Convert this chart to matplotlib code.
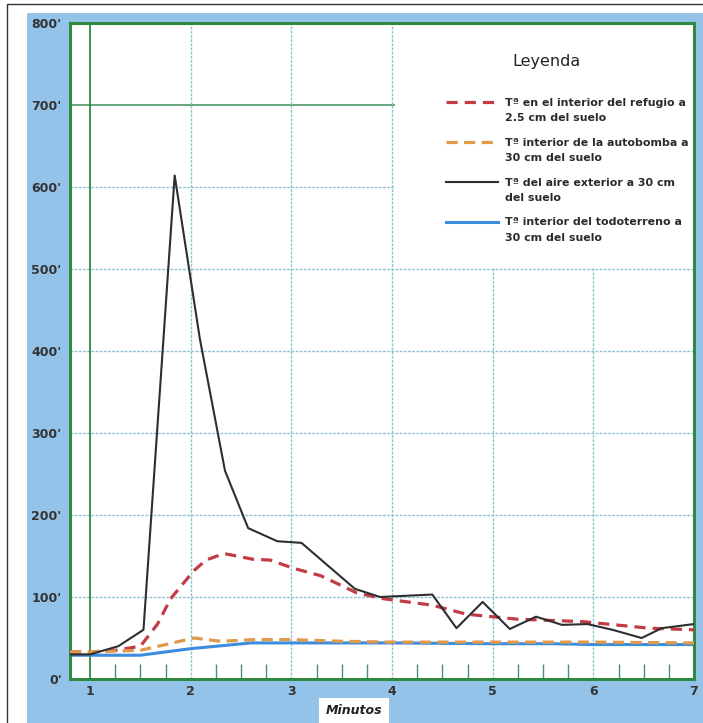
import matplotlib
matplotlib.use("Agg")
import matplotlib.pyplot as plt
from matplotlib.lines import Line2D
from matplotlib.patches import Rectangle
from matplotlib.legend_handler import HandlerLine2D

# datos (minutos, temperatura)
t_refugio = [0.8, 1.0, 1.25, 1.5, 1.67, 1.8, 2.03, 2.15, 2.33, 2.62, 2.79, 3.02, 3.29, 3.65, 3.91, 4.4, 4.74, 5.24, 5.89, 6.55, 7.0]
v_refugio = [33, 33, 35, 40, 67, 98, 132, 145, 153, 146, 145, 135, 126, 105, 98, 90, 79, 73, 70, 62, 60]

t_autobomba = [0.8, 1.0, 1.5, 1.75, 2.03, 2.3, 2.62, 3.0, 3.5, 4.0, 5.0, 6.0, 7.0]
v_autobomba = [33, 33, 35, 42, 50, 46, 48, 48, 46, 45, 45, 45, 44]

t_aire = [0.8, 1.0, 1.28, 1.53, 1.84, 2.09, 2.34, 2.57, 2.86, 3.1, 3.63, 3.88, 4.4, 4.64, 4.9, 5.17, 5.43, 5.69, 5.94, 6.19, 6.48, 6.68, 7.0]
v_aire = [30, 30, 40, 60, 614, 415, 254, 184, 168, 166, 110, 100, 103, 62, 94, 61, 76, 66, 67, 60, 50, 62, 67]

t_todoterreno = [0.8, 1.0, 1.5, 2.0, 2.6, 3.0, 4.0, 5.0, 5.6, 6.0, 7.0]
v_todoterreno = [29, 29, 29, 37, 44, 44, 44, 43, 43, 42, 42]

etiquetas = [
    "Tª en el interior del refugio a\n2.5 cm del suelo",
    "Tª interior de la autobomba a\n30 cm del suelo",
    "Tª del aire exterior a 30 cm\ndel suelo",
    "Tª interior del todoterreno a\n30 cm del suelo",
]
y_ticks = [0, 100, 200, 300, 400, 500, 600, 700, 800]
x_ticks = [1, 2, 3, 4, 5, 6, 7]

verde = '#2f8a3f'
rejilla = '#8cc3cf'


class HandlerArriba(HandlerLine2D):
    # la linea de muestra va a la altura de la primera linea del texto
    def create_artists(self, legend, orig_handle, xdescent, ydescent, width, height, fontsize, trans):
        arts = super().create_artists(legend, orig_handle, xdescent, ydescent, width, height, fontsize, trans)
        for a in arts:
            a.set_ydata([y + 0.8 * fontsize for y in a.get_ydata()])
        return arts


fig = plt.figure(figsize=(7.03, 7.23), dpi=100)
fig.patch.set_facecolor('white')

# marco exterior y panel azul
fig.patches.append(Rectangle((7/703, -0.01), 1, (723-4)/723 + 0.01, transform=fig.transFigure,
                             fc='none', ec='#333333', lw=1, zorder=-10))
fig.patches.append(Rectangle((27/703, 0), 1, (723-13)/723, transform=fig.transFigure,
                             fc='#94c3ea', ec='none', zorder=-9))

ax = fig.add_axes([70/703, 44/723, 624/703, 656/723])
ax.set_zorder(1)
ax.set_facecolor('white')
ax.set_xlim(0.8, 7)
ax.set_ylim(0, 800)

# rejilla
for y in y_ticks[1:-1]:
    if y == 700:
        ax.axhline(y, color='#3c8f5a', lw=1.1, zorder=0.5)
    else:
        ax.axhline(y, color=rejilla, lw=1, ls=(0, (2, 1)), zorder=0.5)
for x in x_ticks[1:-1]:
    ax.axvline(x, color=rejilla, lw=1, ls=(0, (2, 1)), zorder=0.5)
ax.axvline(1, color=verde, lw=1.3, zorder=0.6)

# caja blanca de la leyenda
ax.add_patch(Rectangle((4.03, 503), 2.97, 297, fc='white', ec='none', zorder=1))

ax.plot(t_refugio, v_refugio, color='#c23b45', lw=2.3, ls=(0, (3.5, 2.2)), zorder=3)
ax.plot(t_autobomba, v_autobomba, color='#e09a4c', lw=2.3, ls=(0, (3.5, 2)), zorder=3)
ax.plot(t_todoterreno, v_todoterreno, color='#3a8ddf', lw=2.2, zorder=2.5)
ax.plot(t_aire, v_aire, color='#2e2e2e', lw=1.5, zorder=4)

for s in ax.spines.values():
    s.set_color(verde)
    s.set_linewidth(2.2)

ax.set_yticks(y_ticks)
ax.set_yticklabels([f"{v}'" for v in y_ticks])
ax.set_xticks(x_ticks)
ax.set_xticklabels([str(v) for v in x_ticks])
ax.set_xticks([1 + 0.25 * i for i in range(25) if i % 4 != 0], minor=True)
ax.tick_params(axis='both', which='major', length=0, labelsize=9, labelcolor='#333333')
ax.tick_params(axis='y', pad=6)
ax.tick_params(axis='x', pad=4)
ax.tick_params(axis='x', which='minor', direction='in', length=11, width=1, color='#4f8f6a')
for lab in ax.get_xticklabels() + ax.get_yticklabels():
    lab.set_fontweight('bold')

# leyenda
ax.text(0.763, 0.942, "Leyenda", transform=ax.transAxes, ha='center', va='center',
        fontsize=11.5, fontweight='medium', color='#222222')
handles = [
    Line2D([], [], color='#c23b45', lw=2.3, ls=(0, (3.5, 2.2))),
    Line2D([], [], color='#e09a4c', lw=2.3, ls=(0, (3.5, 2))),
    Line2D([], [], color='#2e2e2e', lw=1.5),
    Line2D([], [], color='#3a8ddf', lw=2.2),
]
leg = ax.legend(handles, etiquetas, loc='upper left', bbox_to_anchor=(0.6026, 0.886),
                frameon=False, prop={'size': 7.9, 'weight': 'bold'}, handlelength=4.75,
                handletextpad=0.6, labelspacing=1.3, borderpad=0, borderaxespad=0,
                handler_map={Line2D: HandlerArriba()})
for t in leg.get_texts():
    t.set_linespacing(1.7)
    t.set_color('#2a2a2a')

fig.text(354/703, 12/723, "Minutos", ha='center', va='center', fontsize=9,
         fontstyle='italic', fontweight='bold', color='#222222',
         bbox=dict(fc='white', ec='none', pad=5))

fig.savefig('out.png', dpi=100)
